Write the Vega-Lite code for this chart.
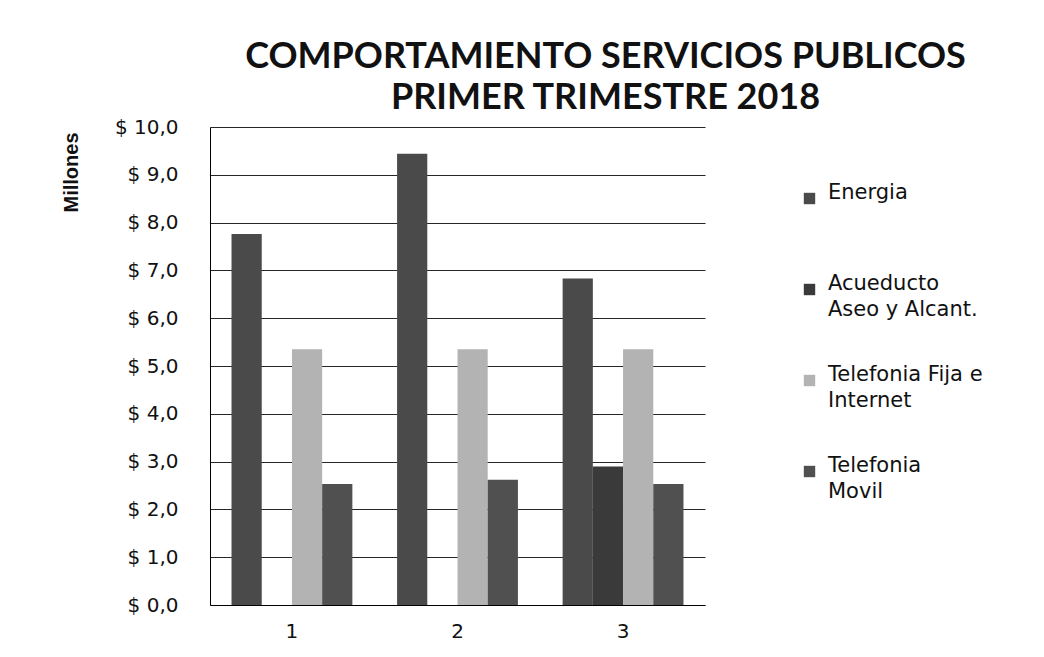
{
  "$schema": "https://vega.github.io/schema/vega-lite/v6.json",
  "autosize": "none",
  "width": 495,
  "height": 478,
  "padding": {"left": 210, "top": 127, "right": 339, "bottom": 52},
  "background": "white",
  "title": {
    "text": ["COMPORTAMIENTO SERVICIOS PUBLICOS", "PRIMER TRIMESTRE 2018"],
    "font": "Lato",
    "fontSize": 36,
    "fontWeight": "bold",
    "color": "#111",
    "anchor": "middle",
    "frame": "group",
    "dx": 148,
    "dy": 20,
    "lineHeight": 41,
    "offset": 20
  },
  "data": {
    "values": [
      {"mes": "1", "servicio": "Energia|", "valor": 7.76},
      {"mes": "1", "servicio": "Acueducto|Aseo y Alcant.", "valor": 0},
      {"mes": "1", "servicio": "Telefonia Fija e|Internet", "valor": 5.35},
      {"mes": "1", "servicio": "Telefonia|Movil", "valor": 2.53},
      {"mes": "2", "servicio": "Energia|", "valor": 9.44},
      {"mes": "2", "servicio": "Acueducto|Aseo y Alcant.", "valor": 0},
      {"mes": "2", "servicio": "Telefonia Fija e|Internet", "valor": 5.35},
      {"mes": "2", "servicio": "Telefonia|Movil", "valor": 2.62},
      {"mes": "3", "servicio": "Energia|", "valor": 6.83},
      {"mes": "3", "servicio": "Acueducto|Aseo y Alcant.", "valor": 2.9},
      {"mes": "3", "servicio": "Telefonia Fija e|Internet", "valor": 5.35},
      {"mes": "3", "servicio": "Telefonia|Movil", "valor": 2.53}
    ]
  },
  "mark": {"type": "bar"},
  "encoding": {
    "x": {
      "field": "mes",
      "type": "nominal",
      "scale": {"paddingInner": 0.27, "paddingOuter": 0.13},
      "axis": {
        "title": null,
        "labelAngle": 0,
        "labelFont": "DejaVu Sans",
        "labelFontSize": 20,
        "labelColor": "#111",
        "labelPadding": 16,
        "ticks": false,
        "domain": true,
        "domainColor": "#000",
        "grid": false
      }
    },
    "xOffset": {
      "field": "servicio",
      "type": "nominal",
      "sort": ["Energia|", "Acueducto|Aseo y Alcant.", "Telefonia Fija e|Internet", "Telefonia|Movil"],
      "scale": {"paddingInner": 0, "paddingOuter": 0}
    },
    "y": {
      "field": "valor",
      "type": "quantitative",
      "scale": {"domain": [0, 10]},
      "axis": {
        "title": "Millones",
        "titleFont": "Liberation Sans",
        "titleFontSize": 20,
        "titleFontWeight": "bold",
        "titleColor": "#111",
        "titleX": -139,
        "titleY": 45,
        "titleAngle": -90,
        "titleAlign": "center",
        "titleBaseline": "middle",
        "values": [0, 1, 2, 3, 4, 5, 6, 7, 8, 9, 10],
        "labelExpr": "'$ ' + replace(format(datum.value, '.1f'), '.', ',')",
        "labelFont": "DejaVu Sans",
        "labelFontSize": 20,
        "labelColor": "#111",
        "labelPadding": 32,
        "ticks": false,
        "domain": true,
        "domainColor": "#000",
        "grid": true,
        "gridColor": "#000",
        "gridOpacity": 0.85
      }
    },
    "color": {
      "field": "servicio",
      "type": "nominal",
      "sort": ["Energia|", "Acueducto|Aseo y Alcant.", "Telefonia Fija e|Internet", "Telefonia|Movil"],
      "scale": {
        "domain": ["Energia|", "Acueducto|Aseo y Alcant.", "Telefonia Fija e|Internet", "Telefonia|Movil"],
        "range": ["#4a4a4a", "#3a3a3a", "#b3b3b3", "#505050"]
      },
      "legend": {
        "title": null,
        "orient": "none",
        "legendX": 589,
        "legendY": 61,
        "padding": 0,
        "symbolType": "square",
        "symbolSize": 130,
        "symbolStrokeWidth": 0,
        "symbolOpacity": 1,
        "labelExpr": "split(datum.label, '|')",
        "labelFont": "DejaVu Sans",
        "labelFontSize": 21,
        "labelColor": "#111",
        "labelBaseline": "alphabetic",
        "labelOffset": 8,
        "labelLimit": 300,
        "rowPadding": 43
      }
    }
  },
  "config": {
    "view": {"stroke": null},
    "style": {"guide-label": {"lineHeight": 26}}
  }
}
